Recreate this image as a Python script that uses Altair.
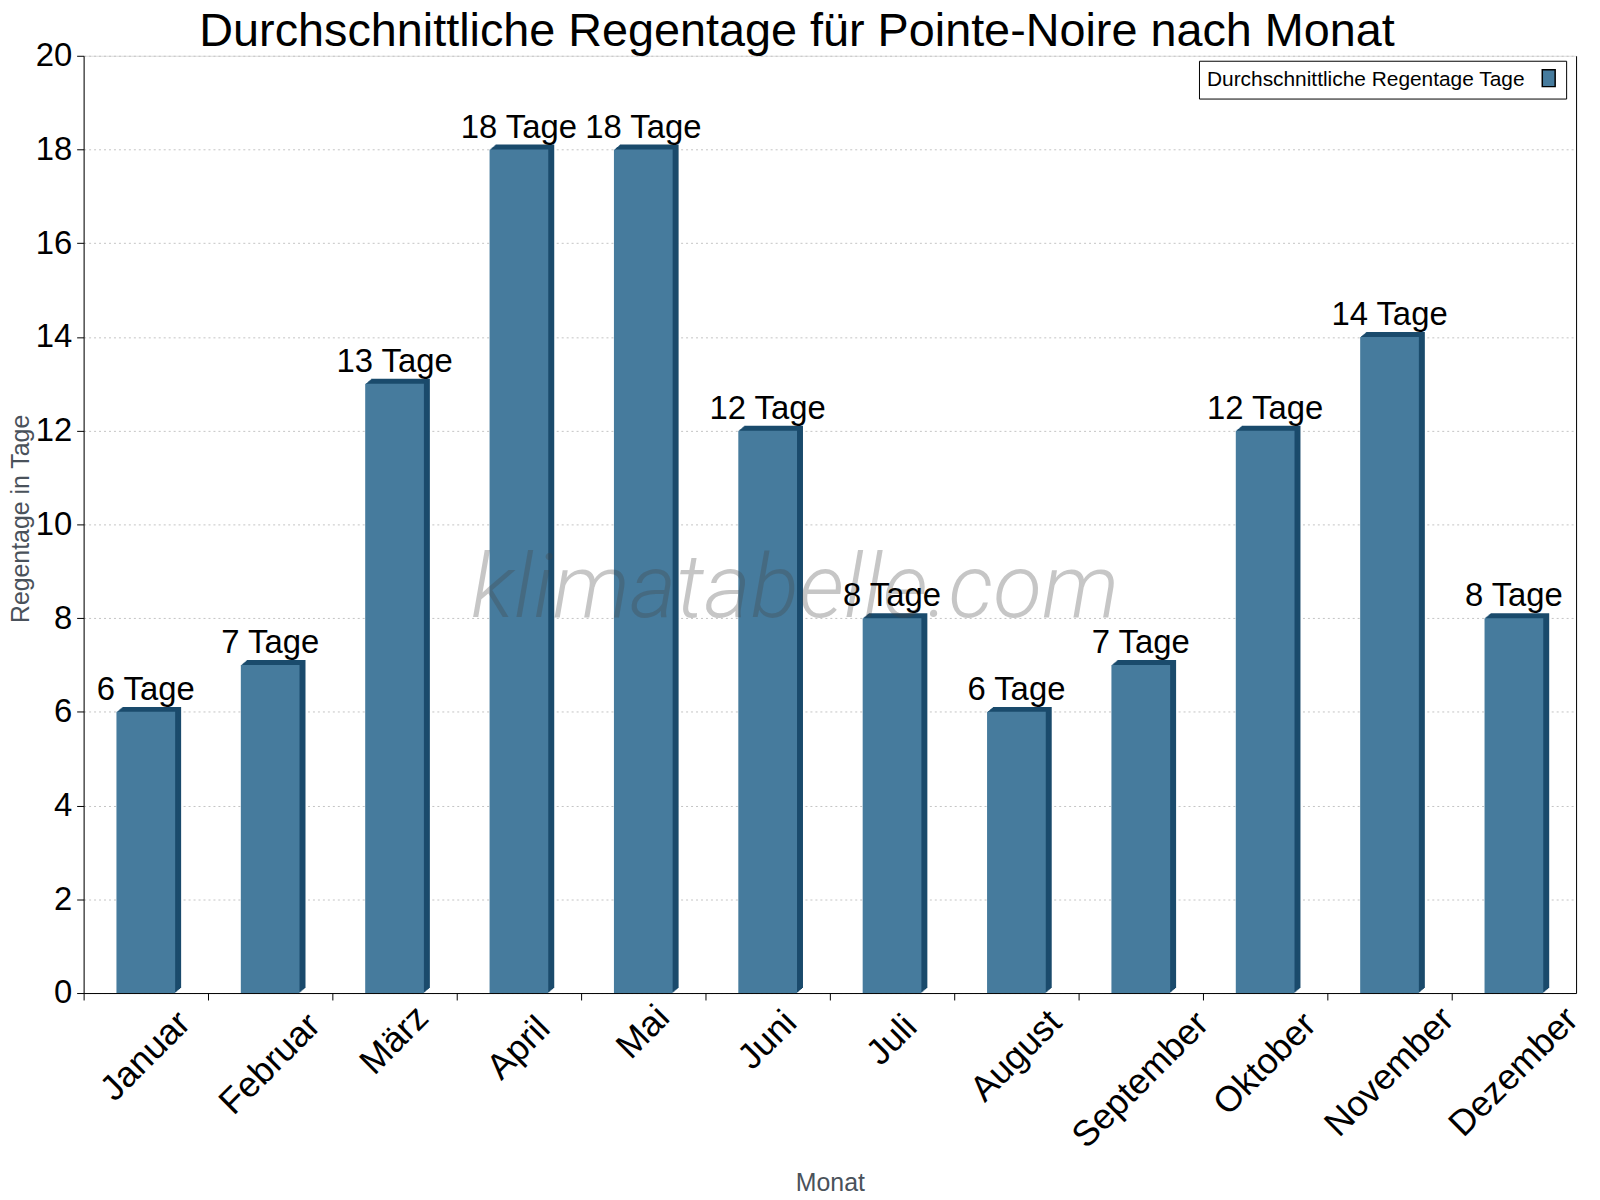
import altair as alt
import pandas as pd

months = ["Januar", "Februar", "März", "April", "Mai", "Juni", "Juli",
          "August", "September", "Oktober", "November", "Dezember"]
rain_days = [6, 7, 13, 18, 18, 12, 8, 6, 7, 12, 14, 8]
unit = "Tage"
series_name = "Durchschnittliche Regentage Tage"
title_text = "Durchschnittliche Regentage für Pointe-Noire nach Monat"
x_title = "Monat"
y_title = "Regentage in Tage"
y_ticks = [0, 2, 4, 6, 8, 10, 12, 14, 16, 18, 20]
watermark = "klimatabelle.com"

FRONT = "#467b9d"
SIDE = "#1b4b6c"
FONT = "Liberation Sans"

df = pd.DataFrame({
    "Monat": months,
    "Wert": rain_days,
    "Label": [f"{v} {unit}" for v in rain_days],
    "Serie": [series_name] * len(months),
})

W, H = 1500, 942
BAR = 59

x_scale = alt.Scale(paddingInner=0, paddingOuter=0)
x_enc = alt.X(
    "Monat:N", sort=months, scale=x_scale,
    axis=alt.Axis(
        title=x_title, titleFont=FONT, titleFontSize=25, titleFontWeight="normal",
        titleColor="#4a525b", titleBaseline="alphabetic", titleY=198,
        labelFont=FONT, labelFontSize=36, labelColor="black", labelAngle=-45,
        labelAlign="center", labelBaseline="middle",
        labelPadding={"expr": "8 + 8 * length(datum.label)"},
        bandPosition=0,
        domainColor="black", tickColor="black", tickSize=7, grid=False,
    ),
)
x_plain = alt.X("Monat:N", sort=months, scale=x_scale, axis=None)

y_scale = alt.Scale(domain=[0, 20], nice=False)
y_left = alt.Y(
    "Wert:Q", scale=y_scale,
    axis=alt.Axis(
        orient="left",
        title=y_title, titleFont=FONT, titleFontSize=25, titleFontWeight="normal",
        titleColor="#4a525b", titleX=-63, titleY=465, titleBaseline="middle",
        values=y_ticks, labelFont=FONT, labelFontSize=33, labelColor="black",
        labelPadding=5, domainColor="black", tickColor="black", tickSize=7,
        grid=True, gridColor="#c4c4c4", gridDash=[2, 3], gridWidth=1,
    ),
)
y_plain = alt.Y("Wert:Q", scale=y_scale, axis=None)
y_right = alt.Y(
    "Wert:Q", scale=y_scale,
    axis=alt.Axis(orient="right", title=None, labels=False, ticks=False,
                  grid=False, domainColor="black"),
)

base = alt.Chart(df)

# front bars carry the axes and the legend
front = base.mark_bar(size=BAR).encode(
    x=x_enc, y=y_left,
    color=alt.Color(
        "Serie:N", scale=alt.Scale(range=[FRONT]),
        legend=alt.Legend(
            title=series_name, titleOrient="left", titleFont=FONT,
            titleFontSize=21, titleFontWeight="normal", titleColor="black",
            titleBaseline="middle", titlePadding=14, titleLimit=0,
            orient="none", legendX=1121, legendY=5,
            labelExpr="''", labelOffset=0,
            symbolType="M-0.76,-1H0.76V1H-0.76Z", symbolSize=290,
            symbolFillColor=FRONT, symbolStrokeColor="black", symbolStrokeWidth=1.5,
            symbolOpacity=1,
            strokeColor="black", fillColor="white", padding=8, cornerRadius=0,
        ),
    ),
)

layers = []
for k in range(6, 0, -1):
    off = k * 5.0 / 6.0
    layers.append(
        base.mark_bar(size=BAR, color=SIDE, xOffset=k, yOffset=-off, y2Offset=-off)
        .encode(x=x_plain, y=y_plain)
    )
layers.append(front)

wm = alt.Chart(pd.DataFrame({"t": [watermark]})).mark_text(
    font="Roboto", fontStyle="italic", fontWeight=300, fontSize=90,
    color="#444444", opacity=0.3, align="center", baseline="alphabetic",
).encode(text="t:N", x=alt.value(715), y=alt.value(564))
layers.append(wm)

labels = base.mark_text(
    font=FONT, fontSize=33, color="black", align="center",
    baseline="alphabetic", dy=-12,
).encode(x=x_plain, y=y_right, text="Label:N")
layers.append(labels)

chart = alt.layer(*layers).resolve_scale(y="shared", x="shared").resolve_axis(
    x="independent", y="independent"
).properties(
    width=W, height=H,
    title=alt.TitleParams(
        title_text, font=FONT, fontSize=47, fontWeight="normal", color="black",
        anchor="middle", dx=-33, dy=57, baseline="alphabetic", offset=4,
    ),
    autosize=alt.AutoSizeParams(type="none"),
    padding={"left": 76, "top": 45, "right": 16, "bottom": 205},
).configure_view(stroke=None).configure(background="white")

chart.save("out.html", embed_options={"renderer": "svg", "actions": False})
